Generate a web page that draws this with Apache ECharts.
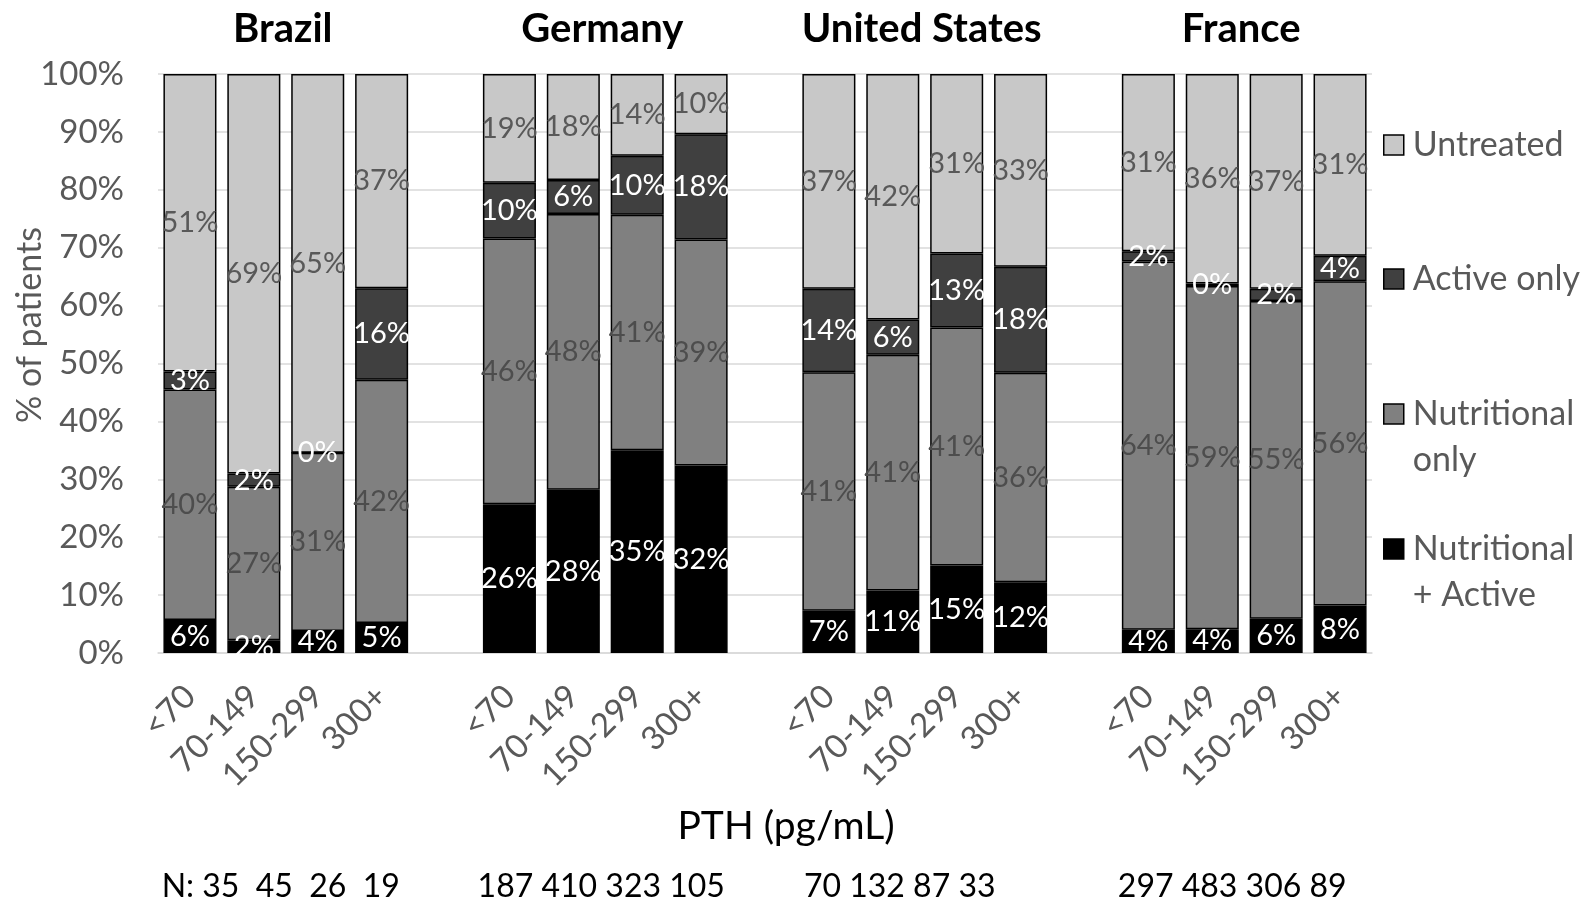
<!DOCTYPE html>
<html><head><meta charset="utf-8">
<script src="https://cdn.jsdelivr.net/npm/echarts@6/dist/echarts.min.js"></script>
<style>html,body{margin:0;padding:0;background:#fff}#c{width:1585px;height:914px}</style>
</head><body><div id="c"></div>
<script>
const countries = ['Brazil', 'Germany', 'United States', 'France'];
const pthBands = ['<70', '70-149', '150-299', '300+'];
const nBrazil = [35, 45, 26, 19];
const nGermany = [187, 410, 323, 105];
const nUS = [70, 132, 87, 33];
const nFrance = [297, 483, 306, 89];
// values per bar (country order, then PTH band order), % of patients
const nutritionalActive = [5.7, 2.2, 3.8, 5.2, 25.7, 28.2, 35.0, 32.4, 7.3, 10.8, 15.1, 12.2, 4.0, 4.1, 5.9, 8.2];
const nutritionalOnly = [39.8, 26.5, 30.8, 42.0, 45.9, 47.6, 40.7, 39.0, 41.2, 40.7, 41.1, 36.2, 63.6, 59.3, 54.9, 56.0];
const activeOnly = [3.1, 2.3, 0, 15.8, 9.6, 5.9, 10.2, 18.2, 14.4, 6.1, 12.8, 18.3, 1.8, 0.4, 2.1, 4.4];
const untreated = [51.4, 69.0, 65.4, 37.0, 18.8, 18.3, 14.1, 10.4, 37.1, 42.4, 31.0, 33.3, 30.6, 36.2, 37.1, 31.4];

const FONT = 'Lato, "Noto Sans", sans-serif';
const nLists = [nBrazil, nGermany, nUS, nFrance];
const nOffsets = [-5, -4, -25, -12];

// categories with a blank slot between countries
const categories = [];
const slotIndex = []; // maps bar index -> category index
countries.forEach((c, ci) => {
  pthBands.forEach((b) => { slotIndex.push(categories.length); categories.push(b); });
  if (ci < countries.length - 1) categories.push('');
});
function spread(arr) {
  const out = categories.map(() => '-');
  arr.forEach((v, i) => { out[slotIndex[i]] = v; });
  return out;
}
const labelFmt = p => Math.round(p.value) + '%';
function mkSeries(name, arr, color, labelColor) {
  return {
    name, type: 'bar', stack: 'all', data: spread(arr),
    barCategoryGap: '17%',
    itemStyle: { color, borderColor: '#000', borderWidth: 1.5 },
    label: { show: true, position: 'inside', formatter: labelFmt, color: labelColor,
      fontFamily: FONT, fontSize: 29 },
    emphasis: { disabled: true }
  };
}
const legendText = { 'Nutritional only': 'Nutritional\nonly', 'Nutritional + Active': 'Nutritional\n+ Active' };
// square drawn at the top of a taller (invisible) box so it lines up with the first text line
const topSquare = 'path://M0,0H10V10H0Z M0,33L0.001,33';
function mkLegend(name, top, twoLine) {
  return {
    data: [name], left: 1383, top, orient: 'vertical', padding: 0,
    itemWidth: 20, itemHeight: twoLine ? 66 : 20, selectedMode: false,
    icon: twoLine ? topSquare : 'rect',
    itemStyle: { borderColor: '#000', borderWidth: 1.5 },
    formatter: n => legendText[n] || n,
    textStyle: { fontFamily: FONT, fontSize: 34, color: '#595959', lineHeight: 46,
      padding: [0, 0, 0, 4] }
  };
}

const chart = echarts.init(document.getElementById('c'));
chart.setOption({
  animation: false,
  backgroundColor: '#fff',
  grid: { left: 158, right: 213, top: 74, bottom: 261, containLabel: false, outerBoundsMode: 'none' },
  legend: [
    mkLegend('Untreated', 122, false),
    mkLegend('Active only', 256, false),
    mkLegend('Nutritional only', 391, true),
    mkLegend('Nutritional + Active', 526, true)
  ],
  xAxis: {
    type: 'category', data: categories,
    axisTick: { show: false },
    axisLine: { lineStyle: { color: '#d9d9d9', width: 1.5 } },
    axisLabel: { interval: 0, rotate: 45, margin: 38, fontFamily: FONT, fontSize: 33, color: '#595959' }
  },
  yAxis: {
    type: 'value', min: 0, max: 100, interval: 10,
    axisLabel: { formatter: '{value}%', fontFamily: FONT, fontSize: 33, color: '#595959', margin: 34 },
    splitLine: { lineStyle: { color: '#d9d9d9', width: 1.5 } },
    axisLine: { show: false }, axisTick: { show: false }
  },
  series: [
    mkSeries('Nutritional + Active', nutritionalActive, '#000000', '#ffffff'),
    mkSeries('Nutritional only', nutritionalOnly, '#808080', '#4d4d4d'),
    mkSeries('Active only', activeOnly, '#404040', '#ffffff'),
    mkSeries('Untreated', untreated, '#c8c8c8', '#595959')
  ]
});

// country titles and N row, centred over each group of bars
const graphics = [];
countries.forEach((c, ci) => {
  const x0 = chart.convertToPixel({ xAxisIndex: 0 }, slotIndex[ci * 4]);
  const x3 = chart.convertToPixel({ xAxisIndex: 0 }, slotIndex[ci * 4 + 3]);
  const cx = (x0 + x3) / 2;
  graphics.push({ type: 'text', x: cx - 3, y: 29, style: { text: c, font: 'bold 40px ' + FONT,
    fill: '#000', align: 'center', verticalAlign: 'middle' } });
  const nTxt = (ci === 0 ? 'N: ' : '') + nLists[ci].join(ci === 0 ? '  ' : ' ');
  graphics.push({ type: 'text', x: cx + nOffsets[ci], y: 887, style: { text: nTxt, font: '32px ' + FONT,
    fill: '#000', align: 'center', verticalAlign: 'middle' } });
});
graphics.push({ type: 'text', x: 786, y: 826, style: { text: 'PTH (pg/mL)', font: '39px ' + FONT,
  fill: '#000', align: 'center', verticalAlign: 'middle' } });
graphics.push({ type: 'text', x: 30, y: 325, rotation: Math.PI / 2, style: { text: '% of patients',
  font: '34px ' + FONT, fill: '#595959', align: 'center', verticalAlign: 'middle' } });
chart.setOption({ graphic: graphics });
</script>
</body></html>
